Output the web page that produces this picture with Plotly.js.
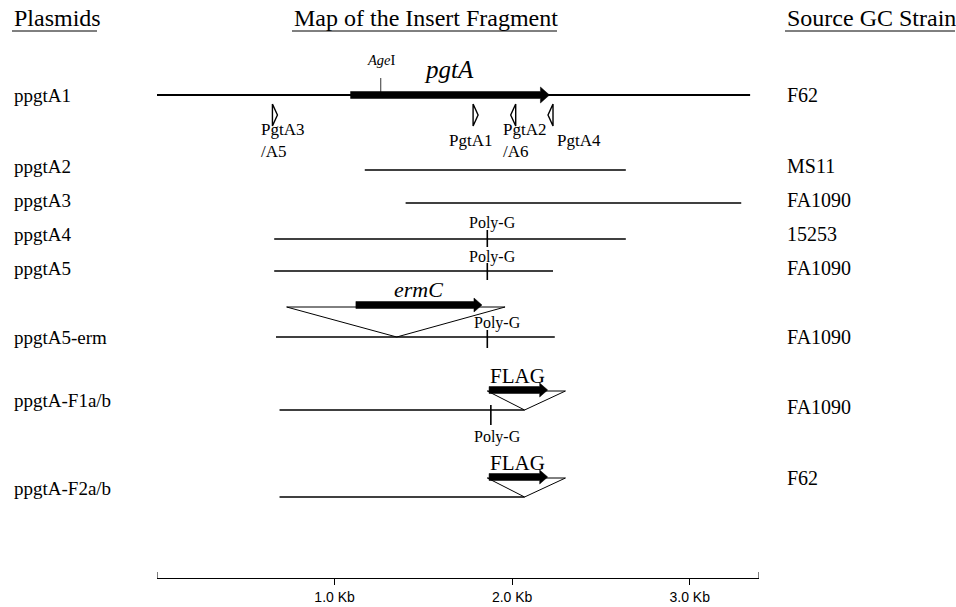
<!DOCTYPE html>
<html><head><meta charset="utf-8">
<script src="https://cdn.plot.ly/plotly-3.0.1.min.js"></script>
<style>html,body{margin:0;padding:0;background:#fff}</style>
</head><body><div id="chart" style="width:956px;height:607px"></div>
<script>
// ---------------- data (kb) ----------------
const plasmids = ["ppgtA1","ppgtA2","ppgtA3","ppgtA4","ppgtA5","ppgtA5-erm","ppgtA-F1a/b","ppgtA-F2a/b"];
const strains = ["F62","MS11","FA1090","15253","FA1090","FA1090","FA1090","F62"];
const fragStart = [0.00,1.17,1.40,0.66,0.66,0.67,0.69,0.69];
const fragEnd   = [3.34,2.64,3.29,2.64,2.23,2.24,2.07,2.07];
const polyG     = [null,null,null,1.86,1.86,1.86,1.88,null];
const pgtAGene  = [1.09, 2.21];
const ageISite  = 1.26;
const primerNames = ["PgtA3<br>/A5","PgtA1","PgtA2<br>/A6","PgtA4"];
const primerPos   = [0.65,1.78,2.02,2.23];
const primerDir   = [1,1,-1,-1];
const ermInsertion = [0.73,1.35,1.96];   // left, site, right
const ermCGene     = [1.12,1.83];
const flagInsertion = [1.86,2.07,2.30];  // left, site, right
const flagGene      = [1.87,2.20];
const scaleTicks  = [1,2,3];
const scaleLabels = ["1.0 Kb","2.0 Kb","3.0 Kb"];
const scaleEnd    = 3.39;

// ---------------- layout constants (px) ----------------
const W = 956, H = 607, ML = 157, MR = 197, MB = 29;
const PXK = (W - ML - MR) / scaleEnd;          // px per kb
const AXIS_Y = H - MB;
const ROW_Y   = [95,170,203,239,271,337,410,497];
const NAME_Y  = [95,166,200,234,268,337,400,488];
const STRAIN_Y= [95,166,200,234,268,337,407,478];
const SERIF = "Liberation Serif, Times New Roman, serif";
const SANS = "Liberation Sans, Arial, sans-serif";
const px2paper = p => (p - ML) / (W - ML - MR);
const dk = p => p / PXK;   // px length -> kb length

const traces = [];
const shapes = [];
const ann = [];
function line(xs, ys, w){ traces.push({type:'scatter',mode:'lines',x:xs,y:ys,line:{color:'#000',width:w},hoverinfo:'skip',cliponaxis:false,showlegend:false}); }
function poly(xs, ys, fill, w){ traces.push({type:'scatter',mode:'lines',x:xs,y:ys,fill:'toself',fillcolor:fill,line:{color:'#000',width:w},hoverinfo:'skip',cliponaxis:false,showlegend:false}); }
function arrow(x0, x1, yc, halfT, headLen, headHalf){
  const xh = x1 - dk(headLen);
  poly([x0,xh,xh,x1,xh,xh,x0,x0],[yc-halfT,yc-halfT,yc-headHalf,yc,yc+headHalf,yc+halfT,yc+halfT,yc-halfT],'#000',0.5);
}
function txt(x, y, t, size, opts){ ann.push(Object.assign({x:x,y:y,xref:'x',yref:'y',text:t,showarrow:false,font:{family:SERIF,size:size,color:'#000'}}, opts||{})); }

// fragments
plasmids.forEach((p,i)=>{
  line([fragStart[i],fragEnd[i]],[ROW_Y[i],ROW_Y[i]], i===0?1.8:1.3);
});
// pgtA gene arrow & AgeI
arrow(pgtAGene[0], pgtAGene[1], ROW_Y[0], 3.5, 9, 8);
line([ageISite,ageISite],[ROW_Y[0]-17,ROW_Y[0]],0.8);
txt(ageISite+dk(1), ROW_Y[0]-35, "<i>Age</i>I", 14.5);
txt(pgtAGene[0]+dk(98), ROW_Y[0]-26, "<i>pgtA</i>", 25);
// primers
const primerLabelOff = [-13,-26,-15,2];
primerPos.forEach((x,i)=>{
  const d = primerDir[i], top = ROW_Y[0]+9, bot = ROW_Y[0]+31, mid = (top+bot)/2;
  poly([x, x+d*dk(5), x, x],[top, mid, bot, top],'#fff',1.4);
  txt(x+dk(primerLabelOff[i]), ROW_Y[0]+45, primerNames[i], 17, {xanchor:'left', yanchor:'middle', align:'left'});
});
// Poly-G markers
const polyGTick = [null,null,null,[-9,8],[-8,9],[-7,11],[-5,15],null];
const polyGLabel = [null,null,null,[5,-16],[5,-14],[10,-14],[7,27],null];
polyG.forEach((g,i)=>{
  if(g===null) return;
  line([g,g],[ROW_Y[i]+polyGTick[i][0],ROW_Y[i]+polyGTick[i][1]],1.6);
  txt(g+dk(polyGLabel[i][0]), ROW_Y[i]+polyGLabel[i][1], "Poly-G", 16);
});
// ermC insertion
const eTop = ROW_Y[5]-30;
poly([ermInsertion[0],ermInsertion[2],ermInsertion[1],ermInsertion[0]],[eTop,eTop,ROW_Y[5],eTop],'rgba(0,0,0,0)',1);
arrow(ermCGene[0], ermCGene[1], eTop-2, 3.5, 8, 7);
txt((ermCGene[0]+ermCGene[1])/2, eTop-18, "<i>ermC</i>", 22);
// FLAG insertions
[6,7].forEach(i=>{
  const fTop = ROW_Y[i]-19;
  poly([flagInsertion[0],flagInsertion[2],flagInsertion[1],flagInsertion[0]],[fTop,fTop,ROW_Y[i],fTop],'rgba(0,0,0,0)',1);
  arrow(flagGene[0], flagGene[1], fTop-1, 3.5, 8, 7);
  txt((flagGene[0]+flagGene[1])/2-dk(1), fTop-15, "FLAG", 21);
});
// row labels
plasmids.forEach((p,i)=>{
  ann.push({x:px2paper(12),y:NAME_Y[i],xref:'paper',yref:'y',text:p,showarrow:false,xanchor:'left',yanchor:'middle',font:{family:SERIF,size:19,color:'#000'}});
  ann.push({x:px2paper(785),y:STRAIN_Y[i],xref:'paper',yref:'y',text:strains[i],showarrow:false,xanchor:'left',yanchor:'middle',font:{family:SERIF,size:20,color:'#000'}});
});
// headers
const headers = [["Plasmids",12,97],["Map of the Insert Fragment",292,557],["Source GC Strain",785,955]];
headers.forEach(h=>{
  ann.push({x:px2paper(h[1]),y:18,xref:'paper',yref:'y',text:h[0],showarrow:false,xanchor:'left',yanchor:'middle',font:{family:SERIF,size:24,color:'#000'}});
  shapes.push({type:'line',xref:'paper',yref:'y',x0:px2paper(h[1]),x1:px2paper(h[2]),y0:31,y1:31,line:{color:'#000',width:1}});
});
// scale bar end ticks
[0, scaleEnd].forEach(x=>{
  shapes.push({type:'line',xref:'x',yref:'y',x0:x,x1:x,y0:AXIS_Y,y1:AXIS_Y-6,line:{color:'#000',width:1}});
});

const layout = {
  width:W, height:H, margin:{l:ML,r:MR,t:0,b:MB,pad:0},
  paper_bgcolor:'#fff', plot_bgcolor:'#fff', showlegend:false,
  xaxis:{range:[0,scaleEnd], showgrid:false, zeroline:false, showline:true, linecolor:'#000', linewidth:1,
         ticks:'outside', ticklen:6, tickwidth:1, tickcolor:'#000', tickvals:scaleTicks, ticktext:scaleLabels,
         tickfont:{family:SANS,size:14,color:'#000'}, fixedrange:true},
  yaxis:{range:[AXIS_Y,0], visible:false, fixedrange:true},
  shapes:shapes, annotations:ann
};
Plotly.newPlot('chart', traces, layout, {staticPlot:true, displayModeBar:false});
</script></body></html>
